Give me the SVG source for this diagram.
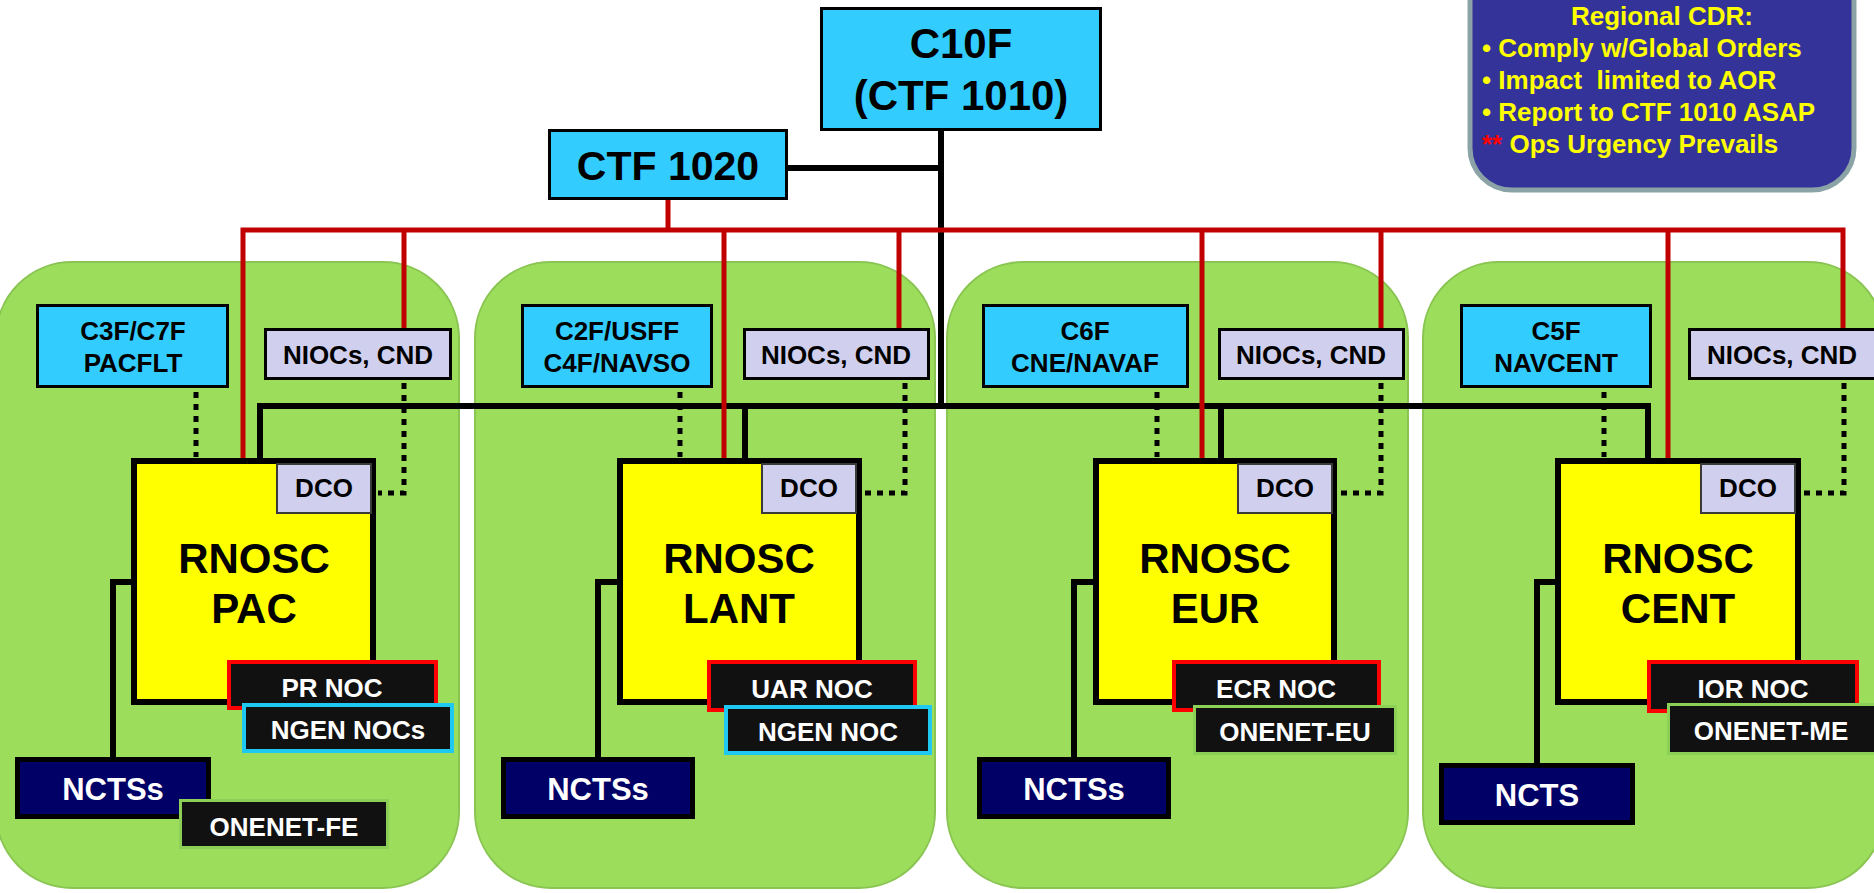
<svg xmlns="http://www.w3.org/2000/svg" width="1874" height="893" viewBox="0 0 1874 893">
<defs>
<style>
text{font-family:"Liberation Sans",Arial,Helvetica,sans-serif;font-weight:bold;text-anchor:middle}
.panel{fill:#9CDE5B;stroke:#8AC553;stroke-width:2}
.cyan{fill:#33CCFF;stroke:#000;stroke-width:3}
.niocs{fill:#D0D0EE;stroke:#000;stroke-width:3}
.rnosc{fill:#FFFF00;stroke:#000;stroke-width:6}
.dco{fill:#D0D0EE;stroke:#3a3a3a;stroke-width:2}
.noc{fill:#111;stroke:#FF0000;stroke-width:4}
.ngen{fill:#111;stroke:#1EC8F0;stroke-width:4}
.onenet{fill:#111;stroke:#8CD058;stroke-width:3}
.ncts{fill:#000066;stroke:#000;stroke-width:5}
.red{stroke:#C00000;stroke-width:5;fill:none}
.blk{stroke:#000;stroke-width:6;fill:none}
.dot{stroke:#000;stroke-width:5;stroke-dasharray:6 6;fill:none}
.s{font-size:26px;fill:#000}
.w{font-size:26px;fill:#fff}
.big{font-size:42px;fill:#000}
.nt{font-size:31px;fill:#fff}
.y{font-size:26px;fill:#FFFF00;text-anchor:start}
</style>
</defs>
<rect width="1874" height="893" fill="#fff"/>

<g id="panels">
<rect class="panel" x="-4" y="262" width="463" height="626" rx="76"/>
<rect class="panel" x="475" y="262" width="460" height="626" rx="76"/>
<rect class="panel" x="947" y="262" width="461" height="626" rx="76"/>
<rect class="panel" x="1423" y="262" width="461" height="626" rx="76"/>
</g>

<g id="connectors">
<path class="blk" d="M941 131V406M788 168H941M260 458V406H1648V458M745 406V458M1221 406V458"/>
<path class="blk" d="M131 582H113V757M617 582H598V757M1093 582H1074V757M1555 582H1537V763"/>
<path class="red" d="M668 200V230M243 458V230H1843V328M404 230V328M724 230V458M899 230V328M1202 230V458M1381 230V328M1668 230V458"/>
<path class="dot" d="M196 392V457M680 392V457M1157 392V457M1604 392V457"/>
<path class="dot" d="M404 383V493H378M905 383V493H864M1381 383V493H1339M1844 383V493H1803"/>
</g>

<g id="c10f">
<rect class="cyan" x="821.5" y="8.5" width="279" height="121"/>
<text class="big" x="961" y="58">C10F</text>
<text class="big" x="961" y="110">(CTF 1010)</text>
</g>

<g id="ctf1020">
<rect class="cyan" x="549.5" y="130.5" width="237" height="68"/>
<text class="big" x="668" y="180" style="font-size:41px">CTF 1020</text>
</g>

<g id="regional-cdr">
<rect x="1470" y="-40" width="384" height="230" rx="42" fill="#333399" stroke="#8BA3A6" stroke-width="5"/>
<text x="1662" y="25" style="font-size:26px;fill:#FFFF00">Regional CDR:</text>
<text class="y" x="1482" y="57">• Comply w/Global Orders</text>
<text class="y" x="1482" y="89" xml:space="preserve">• Impact  limited to AOR</text>
<text class="y" x="1482" y="121">• Report to CTF 1010 ASAP</text>
<text class="y" x="1482" y="153"><tspan fill="#FF0000">**</tspan> Ops Urgency Prevails</text>
</g>

<!-- PAC -->
<g id="c3f">
<rect class="cyan" x="37.5" y="305.5" width="190" height="81"/>
<text class="s" x="133" y="340">C3F/C7F</text>
<text class="s" x="133" y="372">PACFLT</text>
</g>
<g id="niocs-pac">
<rect class="niocs" x="265.5" y="329.5" width="185" height="49"/>
<text class="s" x="358" y="364">NIOCs, CND</text>
</g>
<g id="rnosc-pac">
<rect class="rnosc" x="134" y="461" width="239" height="241"/>
<rect class="dco" x="277" y="464" width="94" height="49"/>
<text class="s" x="324" y="497">DCO</text>
<text class="big" x="254" y="573">RNOSC</text>
<text class="big" x="254" y="623">PAC</text>
</g>
<g id="prnoc">
<rect class="noc" x="229" y="662" width="207" height="46"/>
<text class="w" x="332" y="697">PR NOC</text>
</g>
<g id="ngen-pac">
<rect class="ngen" x="244" y="705" width="208" height="46"/>
<text class="w" x="348" y="739">NGEN NOCs</text>
</g>
<g id="ncts-pac">
<rect class="ncts" x="17.5" y="759.5" width="191" height="57"/>
<text class="nt" x="113" y="800">NCTSs</text>
</g>
<g id="onenet-fe">
<rect class="onenet" x="180.5" y="800.5" width="207" height="47"/>
<text class="w" x="284" y="836">ONENET-FE</text>
</g>

<!-- LANT -->
<g id="c2f">
<rect class="cyan" x="522.5" y="305.5" width="189" height="81"/>
<text class="s" x="617" y="340">C2F/USFF</text>
<text class="s" x="617" y="372">C4F/NAVSO</text>
</g>
<g id="niocs-lant">
<rect class="niocs" x="744.5" y="329.5" width="184" height="49"/>
<text class="s" x="836" y="364">NIOCs, CND</text>
</g>
<g id="rnosc-lant">
<rect class="rnosc" x="620" y="461" width="239" height="241"/>
<rect class="dco" x="762" y="464" width="94" height="49"/>
<text class="s" x="809" y="497">DCO</text>
<text class="big" x="739" y="573">RNOSC</text>
<text class="big" x="739" y="623">LANT</text>
</g>
<g id="uarnoc">
<rect class="noc" x="709" y="662" width="206" height="48"/>
<text class="w" x="812" y="698">UAR NOC</text>
</g>
<g id="ngen-lant">
<rect class="ngen" x="726" y="707" width="204" height="46"/>
<text class="w" x="828" y="741">NGEN NOC</text>
</g>
<g id="ncts-lant">
<rect class="ncts" x="503.5" y="759.5" width="189" height="57"/>
<text class="nt" x="598" y="800">NCTSs</text>
</g>

<!-- EUR -->
<g id="c6f">
<rect class="cyan" x="983.5" y="305.5" width="204" height="81"/>
<text class="s" x="1085" y="340">C6F</text>
<text class="s" x="1085" y="372">CNE/NAVAF</text>
</g>
<g id="niocs-eur">
<rect class="niocs" x="1219.5" y="329.5" width="184" height="49"/>
<text class="s" x="1311" y="364">NIOCs, CND</text>
</g>
<g id="rnosc-eur">
<rect class="rnosc" x="1096" y="461" width="238" height="241"/>
<rect class="dco" x="1238" y="464" width="94" height="49"/>
<text class="s" x="1285" y="497">DCO</text>
<text class="big" x="1215" y="573">RNOSC</text>
<text class="big" x="1215" y="623">EUR</text>
</g>
<g id="ecrnoc">
<rect class="noc" x="1174" y="662" width="205" height="48"/>
<text class="w" x="1276" y="698">ECR NOC</text>
</g>
<g id="onenet-eu">
<rect class="onenet" x="1194.5" y="706.5" width="201" height="47"/>
<text class="w" x="1295" y="741">ONENET-EU</text>
</g>
<g id="ncts-eur">
<rect class="ncts" x="979.5" y="759.5" width="189" height="57"/>
<text class="nt" x="1074" y="800">NCTSs</text>
</g>

<!-- CENT -->
<g id="c5f">
<rect class="cyan" x="1461.5" y="305.5" width="189" height="81"/>
<text class="s" x="1556" y="340">C5F</text>
<text class="s" x="1556" y="372">NAVCENT</text>
</g>
<g id="niocs-cent">
<rect class="niocs" x="1689.5" y="329.5" width="186" height="49"/>
<text class="s" x="1782" y="364">NIOCs, CND</text>
</g>
<g id="rnosc-cent">
<rect class="rnosc" x="1558" y="461" width="240" height="241"/>
<rect class="dco" x="1701" y="464" width="94" height="49"/>
<text class="s" x="1748" y="497">DCO</text>
<text class="big" x="1678" y="573">RNOSC</text>
<text class="big" x="1678" y="623">CENT</text>
</g>
<g id="iornoc">
<rect class="noc" x="1649" y="662" width="208" height="49"/>
<text class="w" x="1753" y="698">IOR NOC</text>
</g>
<g id="onenet-me">
<rect class="onenet" x="1668.5" y="704.5" width="210" height="49"/>
<text class="w" x="1771" y="740">ONENET-ME</text>
</g>
<g id="ncts-cent">
<rect class="ncts" x="1441.5" y="765.5" width="191" height="57"/>
<text class="nt" x="1537" y="806">NCTS</text>
</g>
</svg>
